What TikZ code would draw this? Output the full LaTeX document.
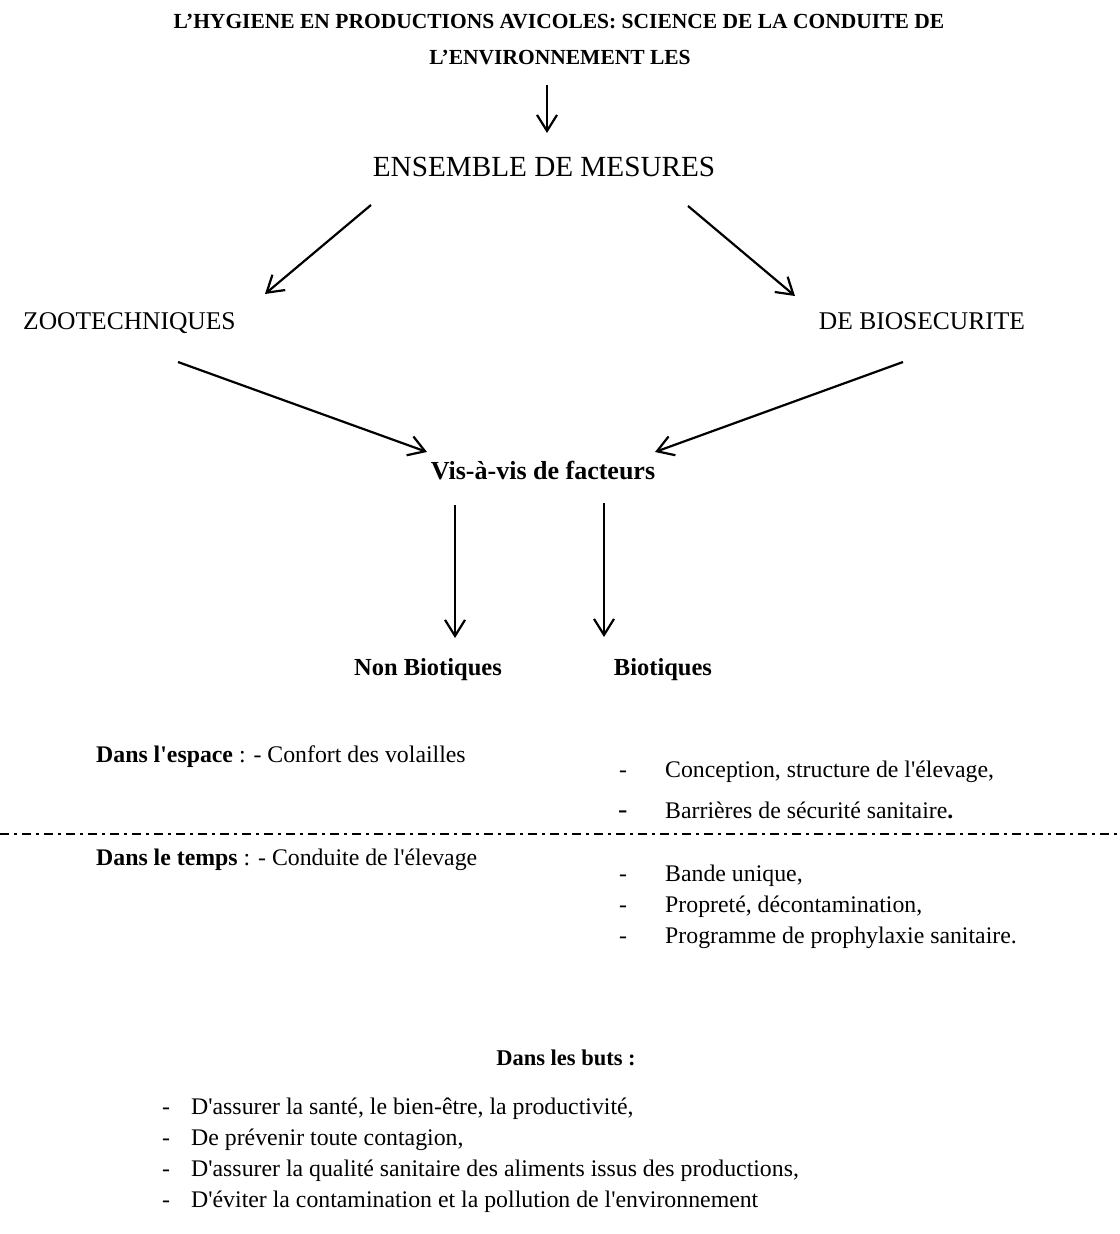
\documentclass[tikz,border=0pt]{standalone}
\usepackage{fontspec}
\setmainfont{Liberation Serif}[Ligatures=TeXReset]
\usetikzlibrary{arrows.meta}
\begin{document}
\begin{tikzpicture}[x=1pt,y=-1pt,
  txt/.style={inner sep=0pt,anchor=base},
  ttl/.style={txt,font=\fontsize{21.5}{24}\selectfont\bfseries},
  big/.style={txt,font=\fontsize{29.2}{32}\selectfont},
  mid/.style={txt,font=\fontsize{25.5}{28}\selectfont},
  body/.style={txt,font=\fontsize{23.8}{28}\selectfont},
  conn/.style={line width=2.2pt,-{Straight Barb[length=16pt,width=20pt,line width=2.2pt]}},
  sep/.style={line width=2.4pt,dash pattern=on 9pt off 5pt on 3pt off 5pt}]
\useasboundingbox (0,0) rectangle (1119,1234);
% title
\node[ttl] (t1) at (559,28) {L’HYGIENE EN PRODUCTIONS AVICOLES: SCIENCE DE LA CONDUITE DE};
\node[ttl] (t2) at (560,64) {L’ENVIRONNEMENT LES};
\node[big] (ens) at (544,176) {ENSEMBLE DE MESURES};
\node[mid,anchor=base west] (zoo) at (23,329) {ZOOTECHNIQUES};
\node[mid] (bio) at (922,329) {DE BIOSECURITE};
\node[txt,font=\fontsize{26}{28}\selectfont\bfseries] (vis) at (543,479) {Vis-à-vis de facteurs};
\node[txt,font=\fontsize{24.5}{28}\selectfont\bfseries] (nonb) at (428,675) {Non Biotiques};
\node[txt,font=\fontsize{24.5}{28}\selectfont\bfseries] (bioq) at (663,675) {Biotiques};
% arrow end points
\coordinate (a1s) at (547,85);   \coordinate (a1e) at (547,133);
\coordinate (a2s) at (371,205);  \coordinate (a2e) at (265,294);
\coordinate (a3s) at (688,206);  \coordinate (a3e) at (795,296);
\coordinate (a4s) at (178,362);  \coordinate (a4e) at (427,452);
\coordinate (a5s) at (903,362);  \coordinate (a5e) at (655,452);
\coordinate (a6s) at (455,505);  \coordinate (a6e) at (455,638);
\coordinate (a7s) at (604,503);  \coordinate (a7e) at (604,637);
\draw[conn] (a1s) -- (a1e);
\draw[conn] (a2s) -- (a2e);
\draw[conn] (a3s) -- (a3e);
\draw[conn] (a4s) -- (a4e);
\draw[conn] (a5s) -- (a5e);
\draw[conn] (a6s) -- (a6e);
\draw[conn] (a7s) -- (a7e);
% space section
\node[body,anchor=base west] (esp) at (96,762) {\textbf{Dans l'espace} : - Confort des volailles};
\node[body,anchor=base west] (d1) at (619,777) {-};
\node[body,anchor=base west] (l1) at (665,777) {Conception, structure de l'élevage,};
\node[txt,anchor=base west,font=\fontsize{28}{30}\selectfont] (d2) at (618,818) {-};
\node[body,anchor=base west] (l2) at (665,818) {Barrières de sécurité sanitaire\textbf{.}};
% separator
\coordinate (sepl) at (0,834); \coordinate (sepr) at (1119,834);
\draw[sep] (sepl) -- (sepr);
% time section
\node[body,anchor=base west] (tps) at (96,865) {\textbf{Dans le temps} : - Conduite de l'élevage};
\node[body,anchor=base west] (d3) at (619,881) {-};
\node[body,anchor=base west] (l3) at (665,881) {Bande unique,};
\node[body,anchor=base west] (d4) at (619,912) {-};
\node[body,anchor=base west] (l4) at (665,912) {Propreté, décontamination,};
\node[body,anchor=base west] (d5) at (619,943) {-};
\node[body,anchor=base west] (l5) at (665,943) {Programme de prophylaxie sanitaire.};
% goals
\node[txt,font=\fontsize{22.5}{26}\selectfont\bfseries] (buts) at (566,1065) {Dans les buts :};
\node[body,anchor=base west] (e1) at (162,1114) {-};
\node[body,anchor=base west] (g1) at (191,1114) {D'assurer la santé, le bien-être, la productivité,};
\node[body,anchor=base west] (e2) at (162,1145) {-};
\node[body,anchor=base west] (g2) at (191,1145) {De prévenir toute contagion,};
\node[body,anchor=base west] (e3) at (162,1176) {-};
\node[body,anchor=base west] (g3) at (191,1176) {D'assurer la qualité sanitaire des aliments issus des productions,};
\node[body,anchor=base west] (e4) at (162,1207) {-};
\node[body,anchor=base west] (g4) at (191,1207) {D'éviter la contamination et la pollution de l'environnement};
\end{tikzpicture}
\end{document}
